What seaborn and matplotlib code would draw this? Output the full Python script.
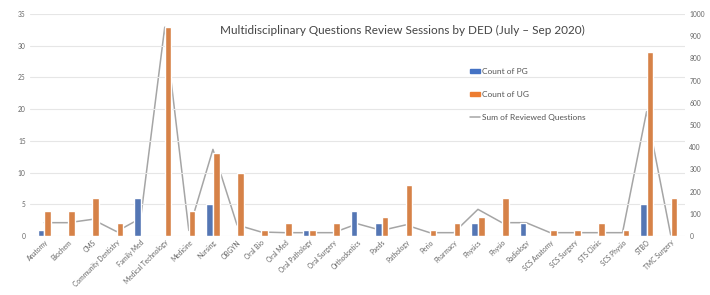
import pandas as pd
import numpy as np
import matplotlib.pyplot as plt
import seaborn as sns
from matplotlib.patches import Patch
from matplotlib.lines import Line2D

# departments on the x axis
departments = ["Anatomy", "Biochem", "CMS", "Community Dentistry", "Family Med",
               "Medical Technology", "Medicine", "Nursing", "OBGYN", "Oral Bio",
               "Oral Med", "Oral Pathology", "Oral Surgery", "Orthodontics", "Paeds",
               "Pathology", "Perio", "Pharmacy", "Physics", "Physio", "Radiology",
               "SCS Anatomy", "SCS Surgery", "STS Clinic", "SCS Physio", "STBO",
               "TMC Surgery"]

pg_count = [1, 0, 0, 0, 6, 0, 0, 5, 0, 0, 0, 1, 0, 4, 2, 0, 0, 0, 2, 0, 2,
            0, 0, 0, 0, 5, 0]
ug_count = [4, 4, 6, 2, 0, 33, 4, 13, 10, 1, 2, 1, 2, 0, 3, 8, 1, 2, 3, 6, 0,
            1, 1, 2, 1, 29, 6]
reviewed = [60, 60, 75, 20, 80, 940, 25, 390, 50, 18, 15, 15, 15, 55, 25, 50,
            15, 15, 120, 60, 60, 15, 15, 15, 15, 560, 5]

df = pd.DataFrame({
    "Department": departments * 2,
    "Count": pg_count + ug_count,
    "Series": ["Count of PG"] * len(departments) + ["Count of UG"] * len(departments),
})

sns.set_style("white")
plt.rcParams["font.family"] = ["Lato", "DejaVu Sans"]

fig, ax = plt.subplots(figsize=(7.1, 2.95), dpi=100)
fig.subplots_adjust(left=0.042, right=0.965, top=0.953, bottom=0.2)

sns.barplot(data=df, x="Department", y="Count", hue="Series", order=departments,
            palette=["#4472C4", "#ED7D31"], width=0.55, ax=ax, legend=False)

ax2 = ax.twinx()
sns.lineplot(x=np.arange(len(departments)), y=reviewed, color="#A5A5A5",
             linewidth=1.1, ax=ax2, legend=False)

ax.set_ylim(0, 35)
ax.set_yticks(range(0, 36, 5))
ax2.set_ylim(0, 1000)
ax2.set_yticks(range(0, 1001, 100))
ax.set_xlim(-0.6, len(departments) - 0.4)

ax.yaxis.grid(True, color="#E6E6E6", linewidth=0.8)
ax.set_axisbelow(True)
for a in (ax, ax2):
    for s in a.spines.values():
        s.set_visible(False)
    a.tick_params(length=0, labelsize=4.8, labelcolor="#666666", pad=3)
ax.set_xlabel("")
ax.set_ylabel("")
ax2.set_ylabel("")
plt.setp(ax.get_xticklabels(), rotation=45, ha="right", rotation_mode="anchor")
ax.tick_params(axis="x", pad=2)

ax.set_zorder(ax2.get_zorder() + 1)
ax.patch.set_visible(False)

# legend
handles = [Patch(color="#4472C4"), Patch(color="#ED7D31"),
           Line2D([0], [0], color="#A5A5A5", linewidth=1.1)]
ax.legend(handles, ["Count of PG", "Count of UG", "Sum of Reviewed Questions"],
          loc="upper left", bbox_to_anchor=(0.66, 0.79), frameon=False,
          fontsize=6, handlelength=1.2, handleheight=0.5, labelspacing=1.9,
          handletextpad=0.3, labelcolor="#555555")

fig.text(0.31, 0.885, "Multidisciplinary Questions Review Sessions by DED (July \u2013 Sep 2020)",
         fontsize=8.5, color="#444444")

plt.savefig("out.png", dpi=100)
